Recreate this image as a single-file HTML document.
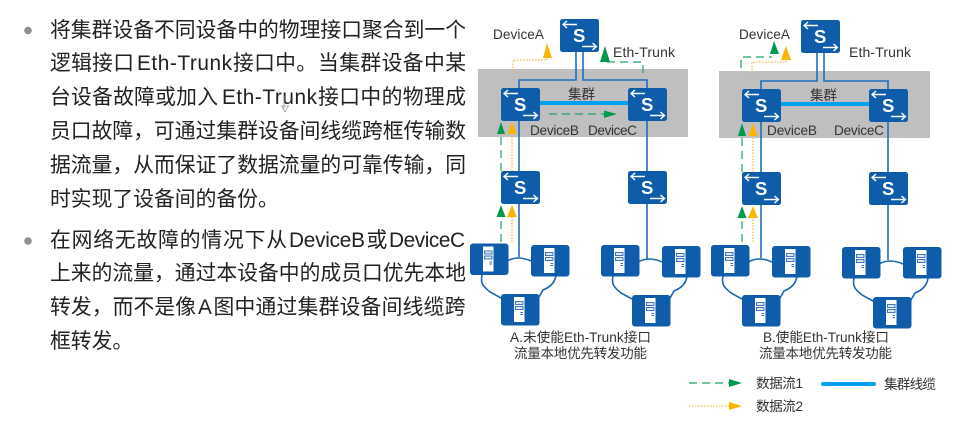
<!DOCTYPE html>
<html>
<head>
<meta charset="utf-8">
<style>
html,body{margin:0;padding:0;background:#fff;width:973px;height:425px;overflow:hidden}
svg{display:block}
.t{font-family:"Liberation Sans","Noto Sans CJK SC",sans-serif;font-size:20.8px;fill:#222}
.l{font-family:"Liberation Sans","Noto Sans CJK SC",sans-serif;font-size:13.6px;fill:#333}
.s{font-family:"Liberation Sans",sans-serif;font-size:18.5px;font-weight:bold;fill:#fff}
</style>
</head>
<body>
<svg width="973" height="425" viewBox="0 0 973 425" xmlns="http://www.w3.org/2000/svg">
<defs>
<g id="sw">
<rect width="39" height="33" rx="2.500" fill="#0f5cab"/>
<path d="M17 5.500H3M7 2L3 5.500L7 9M22 27.500H36.500M32.500 24L36.500 27.500L32.500 31" fill="none" stroke="#fff" stroke-width="1.400"/>
</g>
<g id="srv">
<rect width="38.500" height="31.500" rx="3" fill="#0f5cab"/>
<rect x="13" y="3" width="10.500" height="25" fill="#fff"/>
<rect x="14.500" y="7.500" width="7.500" height="3" fill="#dce6f2" stroke="#2f6cb0" stroke-width=".9"/>
<rect x="14.500" y="12.500" width="7.500" height="3" fill="#dce6f2" stroke="#2f6cb0" stroke-width=".9"/>
<rect x="19.500" y="18" width="2.500" height="1" fill="#2f6cb0"/>
<rect x="19.500" y="20" width="2.500" height="1" fill="#2f6cb0"/>
</g>
<g id="cloud" fill="none" stroke="#1a66b0" stroke-width="1.600">
<path d="M37 17Q48 11 61 17"/>
<path d="M12 31C10 40 14 43 20 48L31 54"/>
<path d="M86 31C85 40 78 44 73 46L69 53"/>
</g>
</defs>

<!-- left text -->
<circle cx="28" cy="30.500" r="3.800" fill="#8f8f8f"/>
<text class="t" x="50" y="37" textLength="416">将集群设备不同设备中的物理接口聚合到一个</text>
<text class="t" x="50" y="70" textLength="84">逻辑接口</text>
<text class="t" x="137" y="70" textLength="95">Eth-Trunk</text>
<text class="t" x="233" y="70" textLength="84">接口中。</text>
<text class="t" x="318" y="70" textLength="148">当集群设备中某</text>
<text class="t" x="50" y="104" textLength="168">台设备故障或加入</text>
<text class="t" x="222" y="104" textLength="95">Eth-Trunk</text>
<text class="t" x="318" y="104" textLength="148">接口中的物理成</text>
<text class="t" x="50" y="138" textLength="416">员口故障&#xFF0C;可通过集群设备间线缆跨框传输数</text>
<text class="t" x="50" y="172" textLength="416">据流量&#xFF0C;从而保证了数据流量的可靠传输&#xFF0C;同</text>
<text class="t" x="50" y="206">时实现了设备间的备份。</text>
<circle cx="28" cy="241" r="3.800" fill="#8f8f8f"/>
<text class="t" x="50" y="247" textLength="237">在网络无故障的情况下从</text>
<text class="t" x="289" y="247" textLength="76">DeviceB</text>
<text class="t" x="366.500" y="247">或</text>
<text class="t" x="389" y="247" textLength="76">DeviceC</text>
<text class="t" x="50" y="280" textLength="416">上来的流量&#xFF0C;通过本设备中的成员口优先本地</text>
<text class="t" x="50" y="314" textLength="146">转发&#xFF0C;而不是像</text>
<text class="t" x="198" y="314">A</text>
<text class="t" x="213.500" y="314" textLength="252">图中通过集群设备间线缆跨</text>
<text class="t" x="50" y="348">框转发。</text>
<path d="M284 96V109M281.500 106L285 112L288.500 106Z" fill="#fff" stroke="#999" stroke-width=".8"/>

<!-- gray panels -->
<rect x="478" y="69" width="210" height="68" fill="#c0bfc0"/>
<rect x="719" y="71" width="211" height="67" fill="#c0bfc0"/>

<!-- blue links -->
<g fill="none" stroke="#1a6fc0" stroke-width="1.600">
<path d="M576 52V80H519V88M583 52V80H647V88M519 120V171M647 120V171M519 203V257M647 203V259"/>
<path d="M817 53V81H761V89M824 53V81H888V89M761 122V172M888 122V172M761 204V258M888 204V260"/>
</g>
<path d="M540 103H628" stroke="#00a2f0" stroke-width="4"/>
<path d="M781 104H869" stroke="#00a2f0" stroke-width="4"/>

<!-- clouds -->
<use href="#cloud" x="470" y="244"/>
<use href="#cloud" x="601" y="245"/>
<use href="#cloud" x="711" y="245"/>
<use href="#cloud" x="842" y="247"/>

<!-- switches -->
<use href="#sw" x="560" y="19"/><text class="s" x="573" y="42">S</text>
<use href="#sw" x="501" y="88"/><text class="s" x="514" y="111">S</text>
<use href="#sw" x="628" y="88"/><text class="s" x="641" y="111">S</text>
<use href="#sw" x="501" y="171"/><text class="s" x="514" y="194">S</text>
<use href="#sw" x="628" y="171"/><text class="s" x="641" y="194">S</text>
<use href="#sw" x="801" y="20"/><text class="s" x="814" y="43">S</text>
<use href="#sw" x="742" y="89"/><text class="s" x="755" y="112">S</text>
<use href="#sw" x="869" y="89"/><text class="s" x="882" y="112">S</text>
<use href="#sw" x="742" y="172"/><text class="s" x="755" y="195">S</text>
<use href="#sw" x="869" y="172"/><text class="s" x="882" y="195">S</text>

<!-- servers -->
<use href="#srv" x="470" y="243.500"/>
<use href="#srv" x="531" y="245"/>
<use href="#srv" x="501" y="294"/>
<use href="#srv" x="601" y="245"/>
<use href="#srv" x="662" y="246"/>
<use href="#srv" x="632" y="295"/>
<use href="#srv" x="711" y="245"/>
<use href="#srv" x="772" y="246"/>
<use href="#srv" x="742" y="295"/>
<use href="#srv" x="842" y="247"/>
<use href="#srv" x="903" y="247"/>
<use href="#srv" x="873" y="297"/>

<!-- green flows -->
<g fill="none" stroke="#1fa565" stroke-width="1.200" stroke-dasharray="8 5">
<path d="M501 242V217M501 171V134"/>
<path d="M549 114H604"/>
<path d="M643 73V62H605"/>
<path d="M742 242V218M742 172V136"/>
<path d="M741 68V57H772"/>
<path d="M689 383H730"/>
</g>
<g fill="#00994f">
<path d="M501 205L505.500 217H496.500Z"/><path d="M501 122L505 134H497Z"/>
<path d="M617 114L604 110.500V118Z"/>
<path d="M605 46L610 62H600Z"/>
<path d="M742 206L746.500 218H737.500Z"/><path d="M742 123L746 136H738Z"/>
<path d="M774 41L779 54H770Z"/>
<path d="M742 383L729 379V387Z"/>
</g>

<!-- orange flows -->
<g fill="none" stroke="#f5b942" stroke-width="1.300" stroke-dasharray="1.500 1.500">
<path d="M512 242V217M512 171V134"/>
<path d="M513 71V60H547V57"/>
<path d="M753 242V218M753 172V136"/>
<path d="M752 73V62H786V60"/>
<path d="M689 406H730"/>
</g>
<g fill="#ffb400">
<path d="M512 205L517 217H507Z"/><path d="M512 122L516.500 134H507.500Z"/>
<path d="M547 43L552 58H543Z"/>
<path d="M753 206L758 218H748Z"/><path d="M753 123L757.500 136H748.500Z"/>
<path d="M786 46L791 60H781Z"/>
<path d="M742 406L729 402V410Z"/>
</g>

<!-- labels -->
<text class="l" x="493" y="39" textLength="51">DeviceA</text>
<text class="l" x="613" y="57" textLength="62" style="font-size:14px">Eth-Trunk</text>
<text class="l" x="568" y="99" textLength="27">集群</text>
<text class="l" x="530" y="135" textLength="49">DeviceB</text>
<text class="l" x="588" y="135" textLength="49">DeviceC</text>
<text class="l" x="739" y="39" textLength="51">DeviceA</text>
<text class="l" x="849" y="57" textLength="62" style="font-size:14px">Eth-Trunk</text>
<text class="l" x="810" y="100" textLength="27">集群</text>
<text class="l" x="767" y="135" textLength="50">DeviceB</text>
<text class="l" x="834" y="135" textLength="50">DeviceC</text>

<text class="l" x="510" y="342" textLength="141">A.未使能Eth-Trunk接口</text>
<text class="l" x="514" y="358" textLength="133">流量本地优先转发功能</text>
<text class="l" x="763" y="342" textLength="126">B.使能Eth-Trunk接口</text>
<text class="l" x="759" y="358" textLength="133">流量本地优先转发功能</text>

<text class="l" x="756" y="388" textLength="47">数据流1</text>
<text class="l" x="756" y="411" textLength="47">数据流2</text>
<path d="M823 384H874" stroke="#00a2f0" stroke-width="4" stroke-linecap="round"/>
<text class="l" x="884" y="389" textLength="52">集群线缆</text>
</svg>
</body>
</html>
